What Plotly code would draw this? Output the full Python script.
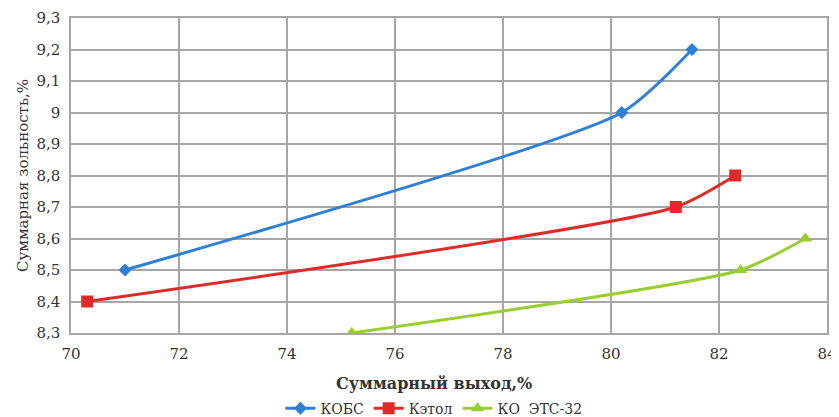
import plotly.graph_objects as go

# данные
kobs_x = [71.0, 80.2, 81.5]
kobs_y = [8.5, 9.0, 9.2]
ketol_x = [70.3, 81.2, 82.3]
ketol_y = [8.4, 8.7, 8.8]
ets_x = [75.2, 82.4, 83.6]
ets_y = [8.3, 8.5, 8.6]

x_ticks = [70, 72, 74, 76, 78, 80, 82, 84]
y_ticks = [8.3, 8.4, 8.5, 8.6, 8.7, 8.8, 8.9, 9.0, 9.1, 9.2, 9.3]
y_labels = ["8,3", "8,4", "8,5", "8,6", "8,7", "8,8", "8,9", "9", "9,1", "9,2", "9,3"]

series = [
    ("КОБС", kobs_x, kobs_y, "#2f7fd6", "diamond", 10),
    ("Кэтол", ketol_x, ketol_y, "#e02a2a", "square", 12),
    ("КО  ЭТС-32", ets_x, ets_y, "#9acd32", "triangle-up", 12),
]

fig = go.Figure()
for name, xs, ys, col, sym, sz in series:
    fig.add_trace(go.Scatter(
        x=xs, y=ys, name=name,
        mode='lines+markers',
        line=dict(color=col, width=3, shape='spline', smoothing=0.6),
        marker=dict(symbol=sym, size=sz, color=col),
    ))

font_serif = "DejaVu Serif"

# подпись оси X отдельной аннотацией (standoff не работает без automargin)
fig.add_annotation(
    text="<b>Суммарный выход,%</b>", xref='paper', yref='paper',
    x=0.48, y=-0.16, yanchor='middle', showarrow=False,
    font=dict(size=16, family=font_serif, color='#333333'),
)

# страница html имеет отступ 8px; легенда в самом низу, поэтому фигура чуть выше окна
fig.update_layout(
    width=831, height=422,
    margin=dict(l=63, r=12, t=10, b=97, autoexpand=False),
    paper_bgcolor='white', plot_bgcolor='white',
    font=dict(family=font_serif, size=15, color='#333333'),
    xaxis=dict(
        range=[70, 84], tickvals=x_ticks,
        showgrid=True, gridcolor='#a6a6a6', gridwidth=1.5,
        showline=True, linecolor='#a6a6a6', linewidth=1.5, mirror=True,
        zeroline=False, ticks='', ticklabelstandoff=6,
    ),
    yaxis=dict(
        range=[8.3, 9.3], tickvals=y_ticks, ticktext=y_labels,
        showgrid=True, gridcolor='#a6a6a6', gridwidth=1.5,
        showline=True, linecolor='#a6a6a6', linewidth=1.5, mirror=True,
        zeroline=False, ticks='', ticklabelstandoff=6,
        title=dict(text="Суммарная зольность,%", font=dict(size=15), standoff=4),
    ),
    legend=dict(
        orientation='h', x=0.48, xanchor='center', y=-0.24, yanchor='middle',
        font=dict(size=14), tracegroupgap=0,
    ),
)

fig.write_html("out.html")
